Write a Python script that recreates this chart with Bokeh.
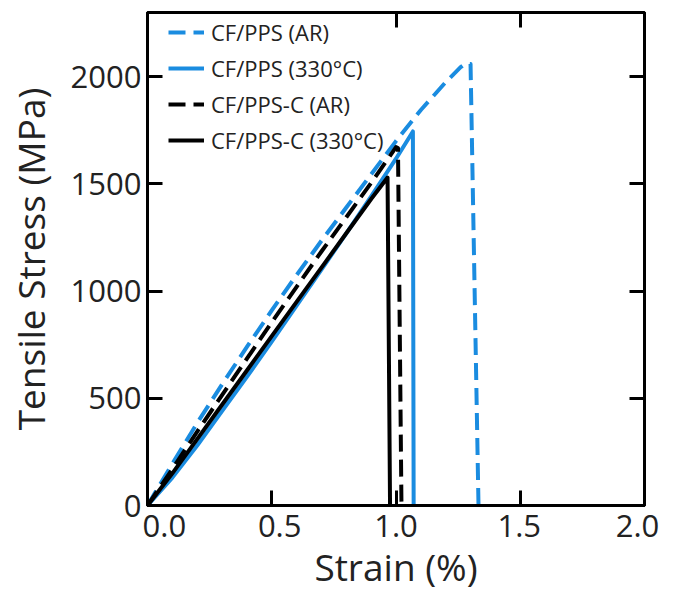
from bokeh.plotting import figure
from bokeh.models import (Range1d, FixedTicker, LinearAxis, Legend, LegendItem,
                          CustomJSTickFormatter)
from bokeh.embed import file_html
from bokeh.resources import INLINE

# ---------------- data ----------------
series_names = ["CF/PPS (AR)", "CF/PPS (330°C)", "CF/PPS-C (AR)", "CF/PPS-C (330°C)"]

strain_pps_ar = [0, 0.1, 0.2, 0.3, 0.4, 0.5, 0.6, 0.7, 0.8, 0.9, 1.0, 1.1, 1.2, 1.26, 1.28, 1.30, 1.332]
stress_pps_ar = [0, 195, 385, 565, 740, 910, 1075, 1235, 1390, 1545, 1700, 1845, 1975, 2045, 2062, 2060, 0]

strain_pps_330 = [0, 0.1, 0.2, 0.3, 0.4, 0.5, 0.6, 0.7, 0.8, 0.9, 1.0, 1.068, 1.071]
stress_pps_330 = [0, 130, 280, 440, 600, 765, 932, 1100, 1270, 1442, 1618, 1745, 0]

strain_ppsc_ar = [0, 0.1, 0.2, 0.3, 0.4, 0.5, 0.6, 0.7, 0.8, 0.9, 1.0, 1.008, 1.022]
stress_ppsc_ar = [0, 170, 345, 515, 685, 855, 1020, 1185, 1345, 1505, 1672, 1668, 0]

strain_ppsc_330 = [0, 0.1, 0.2, 0.3, 0.4, 0.5, 0.6, 0.7, 0.8, 0.9, 0.966, 0.976]
stress_ppsc_330 = [0, 150, 310, 470, 630, 790, 950, 1110, 1270, 1430, 1530, 0]

x_ticks = [0, 0.5, 1.0, 1.5, 2.0]
x_tick_labels = ["0.0", "0.5", "1.0", "1.5", "2.0"]
y_ticks = [0, 500, 1000, 1500, 2000]

# ---------------- styles ----------------
FONT = "Open Sans"
TEXT = "#222222"
BLUE = "#1a8ce0"
BLACK = "#000000"
X_LABEL_NUDGE = [0.068, 0.032, 0.0, -0.004, -0.028]   # label nudge (x units) as in the reference

p = figure(frame_width=497, frame_height=493,
           min_border_left=147, min_border_right=30, min_border_top=12, min_border_bottom=87,
           x_range=Range1d(0, 2.0), y_range=Range1d(0, 2300),
           output_backend="svg", toolbar_location=None,
           background_fill_color="white", border_fill_color="white")
p.grid.visible = False
p.outline_line_color = "black"
p.outline_line_width = 3


def style_axis(ax, ticks):
    ax.ticker = FixedTicker(ticks=ticks)
    ax.axis_line_color = "black"
    ax.axis_line_width = 3
    ax.major_tick_line_color = "black"
    ax.major_tick_line_width = 3
    ax.major_tick_in = 15
    ax.major_tick_out = 0
    ax.minor_tick_line_color = None
    ax.major_label_text_font = FONT
    ax.major_label_text_color = TEXT
    ax.axis_label_text_font = FONT
    ax.axis_label_text_color = TEXT
    ax.axis_label_text_font_style = "normal"


def hide_labels(ax):
    ax.major_label_text_font_size = "0px"
    ax.major_label_text_color = None
    ax.major_label_standoff = 0


# left axis
ya = p.yaxis[0]
style_axis(ya, y_ticks)
ya.major_label_text_font_size = "31px"
ya.major_label_standoff = 6
ya.axis_label = "Tensile Stress (MPa)"
ya.axis_label_text_font_size = "37px"
ya.axis_label_standoff = 12

# bottom axis: line and ticks only
xa = p.xaxis[0]
style_axis(xa, x_ticks)
hide_labels(xa)

# second bottom axis: tick labels (slightly nudged as in the reference) and title
xl = LinearAxis()
style_axis(xl, [t + d for t, d in zip(x_ticks, X_LABEL_NUDGE)])
xl.axis_line_color = None
xl.major_tick_line_color = None
xl.major_tick_in = 0
xl.formatter = CustomJSTickFormatter(args=dict(labels=x_tick_labels),
                                     code="return labels[index];")
xl.major_label_text_font_size = "31px"
xl.major_label_standoff = 9
xl.axis_label = "Strain (%)"
xl.axis_label_text_font_size = "37px"
xl.axis_label_standoff = 1
p.add_layout(xl, "below")

# mirrored axes (ticks only)
top = LinearAxis()
style_axis(top, x_ticks)
hide_labels(top)
p.add_layout(top, "above")

right = LinearAxis()
style_axis(right, y_ticks)
hide_labels(right)
p.add_layout(right, "right")

# curves
r1 = p.line(strain_pps_ar, stress_pps_ar, line_color=BLUE, line_width=4,
            line_dash="17 8", line_join="round")
r2 = p.line(strain_pps_330, stress_pps_330, line_color=BLUE, line_width=4,
            line_join="round")
r3 = p.line(strain_ppsc_ar, stress_ppsc_ar, line_color=BLACK, line_width=4,
            line_dash="17 8", line_join="round")
r4 = p.line(strain_ppsc_330, stress_ppsc_330, line_color=BLACK, line_width=4,
            line_join="round")

legend = Legend(items=[LegendItem(label=n, renderers=[r])
                       for n, r in zip(series_names, [r1, r2, r3, r4])],
                location=(21, 347.5), padding=2, margin=0, spacing=0,
                glyph_width=36, glyph_height=36, label_standoff=7,
                label_text_font=FONT, label_text_font_size="22px", label_text_color=TEXT,
                border_line_color=None, background_fill_color="white",
                background_fill_alpha=1.0)
p.add_layout(legend)

open("out.html", "w").write(file_html(p, INLINE))
